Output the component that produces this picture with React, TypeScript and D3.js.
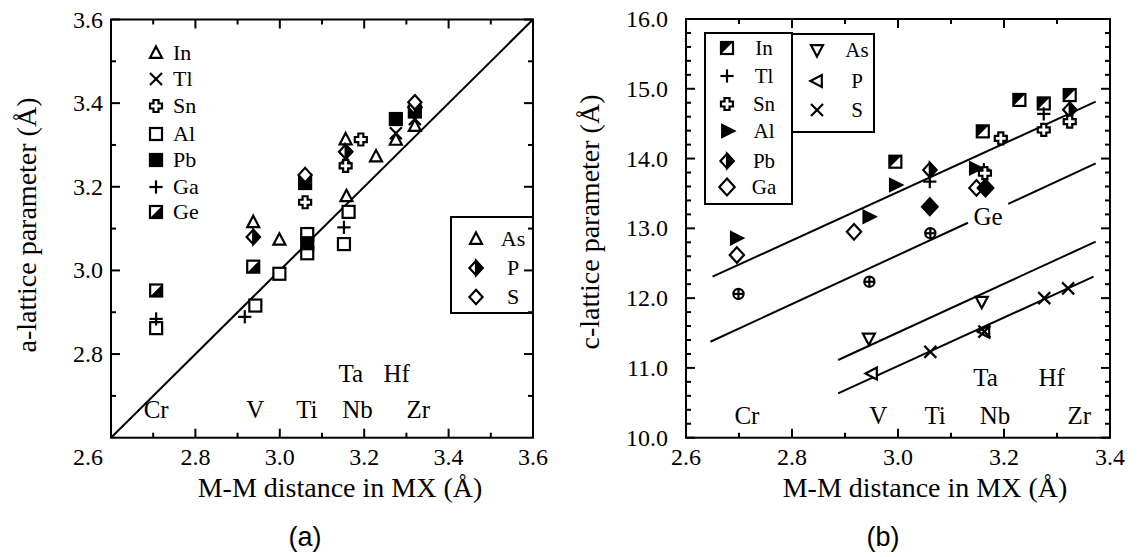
import React from 'react';
import * as d3 from 'd3';

// ---------- Panel (a): a-lattice parameter vs M-M distance ----------
const aTriangle = [[2.937,3.115],[2.999,3.073],[3.156,3.313],[3.228,3.272],[3.158,3.177],[3.275,3.312],[3.32,3.345]];
const aTl = [[3.156,3.268],[3.275,3.328],[3.32,3.362]];
const aSn = [[3.06,3.163],[3.156,3.25],[3.192,3.313]];
const aAl = [[2.707,2.862],[2.942,2.916],[2.999,2.992],[3.065,3.087],[3.065,3.041],[3.163,3.14],[3.152,3.063]];
const aPb = [[3.06,3.209],[3.065,3.065],[3.275,3.362],[3.32,3.38]];
const aGa = [[2.707,2.884],[2.917,2.889],[3.152,3.103]];
const aGe = [[2.707,2.952],[2.937,3.009]];
const aP = [[2.937,3.08],[3.156,3.284],[3.32,3.39]];
const aS = [[3.06,3.228],[3.32,3.402]];
const aLine = [[2.6,2.6],[3.6,3.6]];
const aMetalLow = [['Cr',2.707],['V',2.942],['Ti',3.064],['Nb',3.184],['Zr',3.328]];
const aMetalHigh = [['Ta',3.168],['Hf',3.277]];
const aXTicks = [2.6,2.8,3.0,3.2,3.4,3.6];
const aYTicks = [2.8,3.0,3.2,3.4,3.6];

// ---------- Panel (b): c-lattice parameter vs M-M distance ----------
const bIn = [[2.995,13.955],[3.16,14.39],[3.229,14.84],[3.275,14.79],[3.324,14.91]];
const bTl = [[3.06,13.67],[3.162,13.84],[3.275,14.64]];
const bSn = [[3.194,14.29],[3.164,13.79],[3.275,14.41],[3.324,14.53]];
const bAl = [[2.694,12.86],[2.944,13.167],[2.994,13.62],[3.145,13.86]];
const bPb = [[3.06,13.836],[3.324,14.70]];
const bPbFilled = [[3.06,13.31],[3.165,13.58]];
const bGa = [[2.696,12.618],[2.917,12.95],[3.148,13.58]];
const bGe = [[2.699,12.06],[2.946,12.235],[3.061,12.93]];
const bAs = [[2.945,11.424],[3.158,11.95]];
const bP = [[2.951,10.92],[3.163,11.52]];
const bS = [[3.061,11.23],[3.163,11.52],[3.276,12.0],[3.321,12.14]];
const bLines = [
  [[2.650,12.307],[3.373,14.815]],
  [[2.646,11.375],[3.132,13.08]],
  [[3.208,13.35],[3.373,13.93]],
  [[2.887,11.113],[3.373,12.81]],
  [[2.887,10.636],[3.369,12.307]],
];
const bMetalLow = [['Cr',2.715],['V',2.963],['Ti',3.07],['Nb',3.183],['Zr',3.342]];
const bMetalHigh = [['Ta',3.165],['Hf',3.29]];
const bXTicks = [2.6,2.8,3.0,3.2,3.4];
const bYTicks = [10,11,12,13,14,15,16];

const serif = '"Liberation Serif", "Times New Roman", serif';
const sans = '"Liberation Sans", Arial, "DejaVu Sans", sans-serif';

type MType = 'tri'|'triDown'|'triLeft'|'triRight'|'x'|'plus'|'sn'|'sqOpen'|'sqFilled'|'sqGe'|'sqIn'|'dmOpen'|'dmHalf'|'dmFilled'|'oplus';

function Marker({type, x, y, s = 6}: {type: MType; x: number; y: number; s?: number}) {
  const sw = 2.2;
  const common = {stroke: '#000', strokeWidth: sw, strokeLinejoin: 'miter' as const};
  let el: React.ReactNode = null;
  switch (type) {
    case 'tri':
      el = <polygon points={`0,${-s*1.1} ${s},${s*0.8} ${-s},${s*0.8}`} fill="#fff" {...common} />; break;
    case 'triDown':
      el = <polygon points={`0,${s*1.1} ${s},${-s*0.8} ${-s},${-s*0.8}`} fill="#fff" {...common} />; break;
    case 'triLeft':
      el = <polygon points={`${-s*1.1},0 ${s*0.8},${-s} ${s*0.8},${s}`} fill="#fff" {...common} />; break;
    case 'triRight':
      el = <polygon points={`${s*1.2},0 ${-s*0.8},${-s} ${-s*0.8},${s}`} fill="#000" {...common} />; break;
    case 'x':
      el = <g {...common}><line x1={-s} y1={-s} x2={s} y2={s} /><line x1={-s} y1={s} x2={s} y2={-s} /></g>; break;
    case 'plus':
      el = <g {...common}><line x1={-s*1.1} y1={0} x2={s*1.1} y2={0} /><line x1={0} y1={-s*1.1} x2={0} y2={s*1.1} /></g>; break;
    case 'sn': {
      const a = s * 0.42;
      el = <path d={`M${-a},${-s}H${a}V${-a}H${s}V${a}H${a}V${s}H${-a}V${a}H${-s}V${-a}H${-a}Z`} fill="#fff" {...common} />; break;
    }
    case 'sqOpen':
      el = <rect x={-s} y={-s} width={2*s} height={2*s} fill="#fff" {...common} />; break;
    case 'sqFilled':
      el = <rect x={-s} y={-s} width={2*s} height={2*s} fill="#000" {...common} />; break;
    case 'sqGe':
      el = <g><rect x={-s} y={-s} width={2*s} height={2*s} fill="#fff" {...common} /><polygon points={`${s},${-s} ${s},${s} ${-s},${s}`} fill="#000" /></g>; break;
    case 'sqIn':
      el = <g><rect x={-s} y={-s} width={2*s} height={2*s} fill="#fff" {...common} /><polygon points={`${-s},${-s} ${s},${-s} ${-s},${s}`} fill="#000" /></g>; break;
    case 'dmOpen':
      el = <polygon points={`0,${-s*1.2} ${s*1.1},0 0,${s*1.2} ${-s*1.1},0`} fill="#fff" {...common} />; break;
    case 'dmHalf':
      el = <g><polygon points={`0,${-s*1.2} ${s*1.1},0 0,${s*1.2} ${-s*1.1},0`} fill="#fff" {...common} /><polygon points={`0,${-s*1.2} ${s*1.1},0 0,${s*1.2}`} fill="#000" {...common} /></g>; break;
    case 'dmFilled':
      el = <polygon points={`0,${-s*1.3} ${s*1.2},0 0,${s*1.3} ${-s*1.2},0`} fill="#000" {...common} />; break;
    case 'oplus':
      el = <g {...common}><circle r={s*0.85} fill="#fff" /><line x1={-s*0.85} y1={0} x2={s*0.85} y2={0} /><line x1={0} y1={-s*0.85} x2={0} y2={s*0.85} /></g>; break;
  }
  return <g transform={`translate(${x},${y})`}>{el}</g>;
}

function Frame({x, y, xMajor, xMinor, yMajor, yMinor}: any) {
  const [x0, x1] = x.range();
  const [y0, y1] = y.range();
  const maj = 9, mnr = 5;
  const t: React.ReactNode[] = [];
  xMajor.forEach((v: number, i: number) => {
    const px = x(v);
    t.push(<line key={'xb' + i} x1={px} x2={px} y1={y0} y2={y0 - maj} />);
    t.push(<line key={'xt' + i} x1={px} x2={px} y1={y1} y2={y1 + maj} />);
  });
  xMinor.forEach((v: number, i: number) => {
    const px = x(v);
    t.push(<line key={'xbm' + i} x1={px} x2={px} y1={y0} y2={y0 - mnr} />);
    t.push(<line key={'xtm' + i} x1={px} x2={px} y1={y1} y2={y1 + mnr} />);
  });
  yMajor.forEach((v: number, i: number) => {
    const py = y(v);
    t.push(<line key={'yl' + i} x1={x0} x2={x0 + maj} y1={py} y2={py} />);
    t.push(<line key={'yr' + i} x1={x1} x2={x1 - maj} y1={py} y2={py} />);
  });
  yMinor.forEach((v: number, i: number) => {
    const py = y(v);
    t.push(<line key={'ylm' + i} x1={x0} x2={x0 + mnr} y1={py} y2={py} />);
    t.push(<line key={'yrm' + i} x1={x1} x2={x1 - mnr} y1={py} y2={py} />);
  });
  return (
    <g stroke="#000" strokeWidth={2} fill="none">
      {t}
      <rect x={x0} y={y1} width={x1 - x0} height={y0 - y1} />
    </g>
  );
}

function Points({data, type, x, y, s}: any) {
  return <g>{data.map((d: number[], i: number) => <Marker key={i} type={type} x={x(d[0])} y={y(d[1])} s={s} />)}</g>;
}

export default function App() {
  // Panel (a) scales
  const ax = d3.scaleLinear().domain([2.6, 3.6]).range([111, 533]);
  const ay = d3.scaleLinear().domain([2.6, 3.6]).range([437.7, 19.5]);
  // Panel (b) scales
  const bx = d3.scaleLinear().domain([2.6, 3.4]).range([686, 1110]);
  const by = d3.scaleLinear().domain([10, 16]).range([437.7, 19]);

  const aXMinor = d3.range(5).map(i => 2.7 + 0.2 * i);
  const aYMinor = d3.range(5).map(i => 2.7 + 0.2 * i);
  const bXMinor = d3.range(4).map(i => 2.7 + 0.2 * i);
  const bYMinor = d3.range(31).map(i => 10 + 0.2 * i).filter(v => Math.abs(v - Math.round(v)) > 0.01);

  const line = d3.line();

  const legA1: [MType, string][] = [['tri','In'],['x','Tl'],['sn','Sn'],['sqOpen','Al'],['sqFilled','Pb'],['plus','Ga'],['sqGe','Ge']];
  const legA1Y = [53, 79, 106, 134, 160, 187, 212];
  const legA2: [MType, string][] = [['tri','As'],['dmHalf','P'],['dmOpen','S']];
  const legA2Y = [239, 268, 297];
  const legB1: [MType, string][] = [['sqIn','In'],['plus','Tl'],['sn','Sn'],['triRight','Al'],['dmHalf','Pb'],['dmOpen','Ga']];
  const legB1Y = [48, 76, 104, 131, 161, 187];
  const legB2: [MType, string][] = [['triDown','As'],['triLeft','P'],['x','S']];
  const legB2Y = [50, 81, 110];

  return (
    <svg width={1143} height={557} style={{position: 'absolute', left: 0, top: 0, background: '#fff'}} fontFamily={serif}>
      <rect x={0} y={0} width={1143} height={557} fill="#fff" />
      {/* ================= Panel (a) ================= */}
      <g>
        <path d={line(aLine.map(d => [ax(d[0]), ay(d[1])]) as any) || ''} stroke="#000" strokeWidth={2} fill="none" />
        <Points data={aAl} type="sqOpen" x={ax} y={ay} />
        <Points data={aPb} type="sqFilled" x={ax} y={ay} />
        <Points data={aGe} type="sqGe" x={ax} y={ay} />
        <Points data={aTriangle} type="tri" x={ax} y={ay} />
        <Points data={aTl} type="x" x={ax} y={ay} />
        <Points data={aSn} type="sn" x={ax} y={ay} />
        <Points data={aGa} type="plus" x={ax} y={ay} />
        <Points data={aP} type="dmHalf" x={ax} y={ay} />
        <Points data={aS} type="dmOpen" x={ax} y={ay} />
        <Frame x={ax} y={ay} xMajor={aXTicks} xMinor={aXMinor} yMajor={aYTicks} yMinor={aYMinor} />
        {/* tick labels */}
        <g fontSize={24} fill="#000">
          {aXTicks.map((v, i) => (
            <text key={i} x={i === 0 ? ax(v) - 23 : ax(v)} y={465} textAnchor="middle">{v.toFixed(1)}</text>
          ))}
          {aYTicks.map((v, i) => (
            <text key={i} x={ax(2.6) - 8} y={ay(v) + 8} textAnchor="end">{v.toFixed(1)}</text>
          ))}
        </g>
        {/* metal labels */}
        <g fontSize={25}>
          {aMetalLow.map(([t, v]) => <text key={t as string} x={ax(v as number)} y={ay(2.647)} textAnchor="middle">{t}</text>)}
          {aMetalHigh.map(([t, v]) => <text key={t as string} x={ax(v as number)} y={ay(2.733)} textAnchor="middle">{t}</text>)}
        </g>
        {/* legends */}
        <g fontSize={22}>
          {legA1.map(([m, t], i) => (
            <g key={t}>
              <Marker type={m} x={156} y={legA1Y[i]} />
              <text x={173} y={legA1Y[i] + 7}>{t}</text>
            </g>
          ))}
        </g>
        <rect x={451} y={217} width={82} height={96} fill="none" stroke="#000" strokeWidth={2} />
        <g fontSize={22}>
          {legA2.map(([m, t], i) => (
            <g key={t}>
              <Marker type={m} x={476} y={legA2Y[i]} />
              <text x={513} y={legA2Y[i] + 7} textAnchor="middle">{t}</text>
            </g>
          ))}
        </g>
        {/* axis titles */}
        <text x={ax(3.1) + 18} y={497} fontSize={28} textAnchor="middle">M-M distance in MX (Å)</text>
        <text transform="translate(36,225) rotate(-90)" fontSize={28} textAnchor="middle">a-lattice parameter (Å)</text>
        <text x={305} y={546} fontSize={27} fontFamily={sans} textAnchor="middle">(a)</text>
      </g>

      {/* ================= Panel (b) ================= */}
      <g>
        {bLines.map((l, i) => (
          <path key={i} d={line(l.map(d => [bx(d[0]), by(d[1])]) as any) || ''} stroke="#000" strokeWidth={2} fill="none" />
        ))}
        <Points data={bIn} type="sqIn" x={bx} y={by} />
        <Points data={bAl} type="triRight" x={bx} y={by} />
        <Points data={bGa} type="dmOpen" x={bx} y={by} s={6.5} />
        <Points data={bPbFilled} type="dmFilled" x={bx} y={by} s={6.5} />
        <Points data={bPb} type="dmHalf" x={bx} y={by} />
        <Points data={bTl} type="plus" x={bx} y={by} />
        <Points data={bSn} type="sn" x={bx} y={by} />
        <Points data={bGe} type="oplus" x={bx} y={by} />
        <Points data={bAs} type="triDown" x={bx} y={by} />
        <Points data={bP} type="triLeft" x={bx} y={by} />
        <Points data={bS} type="x" x={bx} y={by} />
        <text x={bx(3.170)} y={by(13.05)} fontSize={25} textAnchor="middle">Ge</text>
        <Frame x={bx} y={by} xMajor={bXTicks} xMinor={bXMinor} yMajor={bYTicks} yMinor={bYMinor} />
        <g fontSize={24} fill="#000">
          {bXTicks.map((v, i) => (
            <text key={i} x={bx(v)} y={465} textAnchor="middle">{v.toFixed(1)}</text>
          ))}
          {bYTicks.map((v, i) => (
            <text key={i} x={bx(2.6) - 18} y={by(v) + 8} textAnchor="end">{v.toFixed(1)}</text>
          ))}
        </g>
        <g fontSize={25}>
          {bMetalLow.map(([t, v]) => <text key={t as string} x={bx(v as number)} y={by(10.196)} textAnchor="middle">{t}</text>)}
          {bMetalHigh.map(([t, v]) => <text key={t as string} x={bx(v as number)} y={by(10.74)} textAnchor="middle">{t}</text>)}
        </g>
        <rect x={705} y={33} width={87} height={171} fill="#fff" stroke="#000" strokeWidth={2} />
        <rect x={792} y={34} width={82} height={98} fill="#fff" stroke="#000" strokeWidth={2} />
        <g fontSize={21}>
          {legB1.map(([m, t], i) => (
            <g key={t}>
              <Marker type={m} x={727} y={legB1Y[i]} s={m === 'dmOpen' ? 7 : 6} />
              <text x={764} y={legB1Y[i] + 7} textAnchor="middle">{t}</text>
            </g>
          ))}
          {legB2.map(([m, t], i) => (
            <g key={t}>
              <Marker type={m} x={817} y={legB2Y[i]} />
              <text x={857} y={legB2Y[i] + 7} textAnchor="middle">{t}</text>
            </g>
          ))}
        </g>
        <text x={925} y={497} fontSize={28} textAnchor="middle">M-M distance in MX (Å)</text>
        <text transform="translate(599,222) rotate(-90)" fontSize={28} textAnchor="middle">c-lattice parameter (Å)</text>
        <text x={883} y={546} fontSize={27} fontFamily={sans} textAnchor="middle">(b)</text>
      </g>
    </svg>
  );
}
